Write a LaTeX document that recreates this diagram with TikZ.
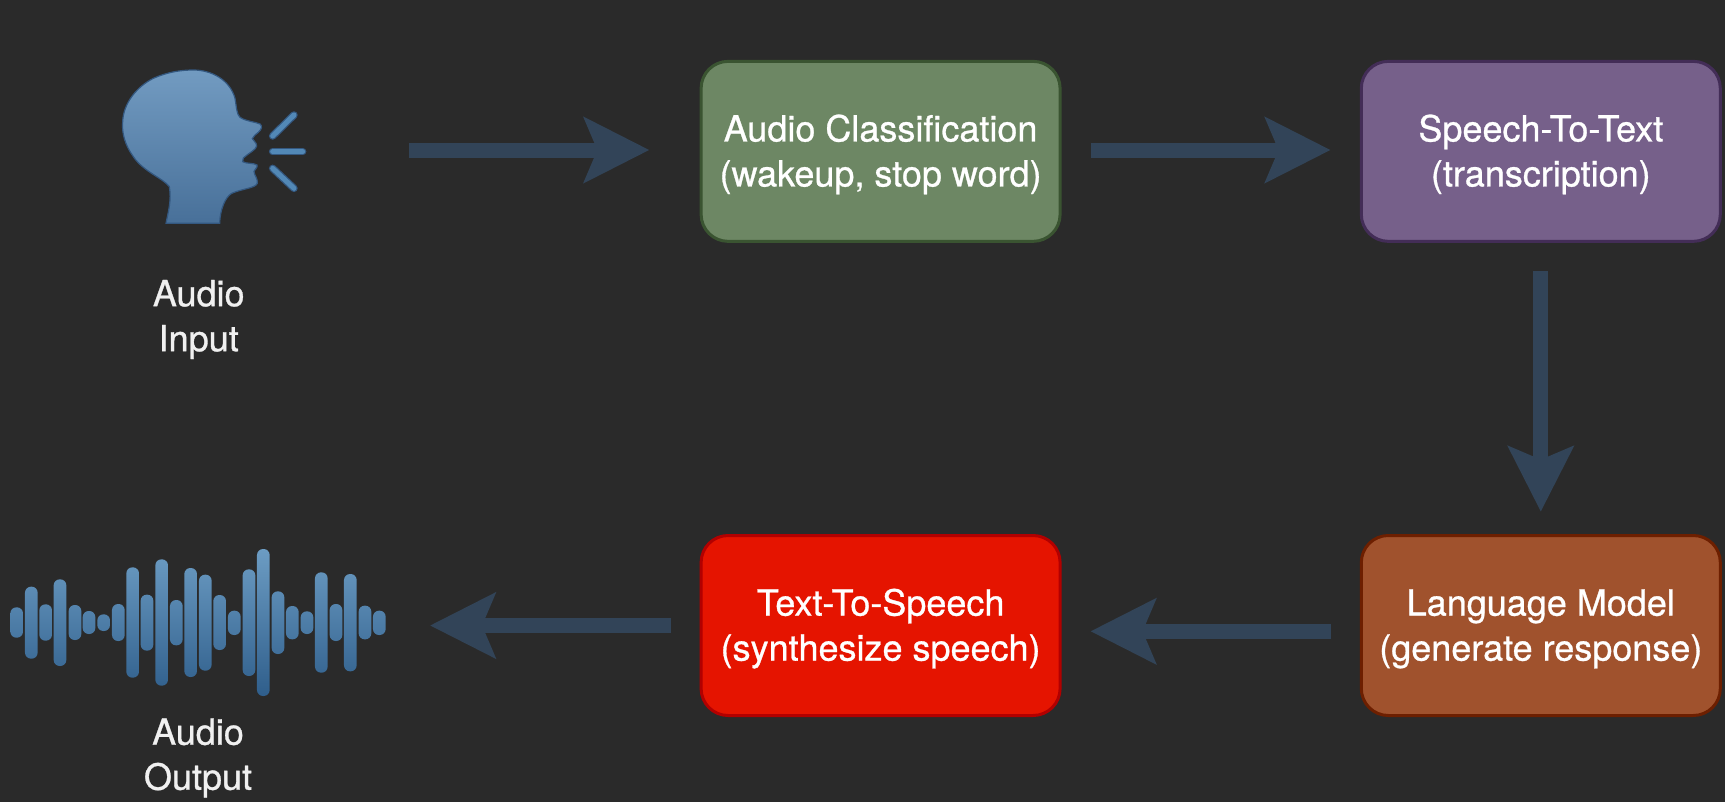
\documentclass[tikz,border=0pt]{standalone}
\usepackage{fontspec}
\setmainfont[FakeBold=0.8]{TeX Gyre Heros}
\usetikzlibrary{arrows.meta}
\definecolor{bgdark}{HTML}{2A2A2A}
\definecolor{flowblue}{HTML}{324458}
\definecolor{headtop}{HTML}{729BC1}
\definecolor{headbot}{HTML}{487099}
\definecolor{headedge}{HTML}{345880}
\definecolor{ticklight}{HTML}{5288B6}
\definecolor{wavetop}{HTML}{6C9CC3}
\definecolor{wavebot}{HTML}{2F5E8B}
\definecolor{clsfill}{HTML}{6D8764}
\definecolor{clsdraw}{HTML}{3A5431}
\definecolor{sttfill}{HTML}{76608A}
\definecolor{sttdraw}{HTML}{432D57}
\definecolor{llmfill}{HTML}{A0522D}
\definecolor{llmdraw}{HTML}{6D1F00}
\definecolor{ttsfill}{HTML}{E51400}
\definecolor{ttsdraw}{HTML}{B20000}
\tikzset{
	stagebox/.style={draw,rounded corners=27pt,line width=3pt,minimum width=359pt,minimum height=180pt,inner sep=0pt,outer sep=0pt,text=white,align=center,text height=78pt,font=\fontsize{36}{45}\selectfont},
	iolabel/.style={text=white!94!black,align=center,inner sep=0pt,font=\fontsize{36}{45}\selectfont},
	flowarrow/.style={flowblue,line width=15pt,-{Stealth[length=65pt,width=64.5pt,inset=13pt]}},
}
\begin{document}
\begin{tikzpicture}[x=1pt,y=-1pt]
	\useasboundingbox (0,0) rectangle (1725,801);
	\fill[bgdark] (-5,-5) rectangle (1730,806);
	\begin{scope}[shift={(80,40)},scale=0.33333]
		\shade[top color=headtop,bottom color=headbot,draw=headedge,line width=1.2pt]
		(340,90) .. controls (395,90) and (450,120) .. (465,175)
		.. controls (470,205) and (470,222) .. (480,232)
		.. controls (500,245) and (525,245) .. (540,252)
		.. controls (548,258) and (545,268) .. (535,277)
		.. controls (528,283) and (520,288) .. (517,296)
		.. controls (520,304) and (530,306) .. (530,318)
		.. controls (530,328) and (505,340) .. (490,354)
		-- (488,365) .. controls (500,372) and (520,368) .. (531,375)
		.. controls (534,382) and (524,388) .. (522,394)
		.. controls (522,405) and (534,415) .. (532,430)
		.. controls (525,445) and (490,445) .. (455,460)
		.. controls (435,472) and (420,510) .. (419,550)
		-- (258,550) .. controls (265,515) and (275,480) .. (268,440)
		.. controls (250,415) and (190,395) .. (160,350)
		.. controls (135,315) and (125,280) .. (128,245)
		.. controls (130,190) and (170,140) .. (220,115)
		.. controls (260,97) and (300,90) .. (340,90) -- cycle;
		\foreach \xa/\ya/\xb/\yb in {578/288/642/225,578/335/668/335,578/385/642/445}{
			\draw[line cap=round,line width=7.5pt,headedge] (\xa,\ya)--(\xb,\yb);
			\draw[line cap=round,line width=5pt,ticklight] (\xa,\ya)--(\xb,\yb);
		}
	\end{scope}
	\begin{scope}[shift={(0,530)},scale=0.33333]
		\shade[top color=wavetop,bottom color=wavebot,rounded corners=6pt]
		foreach \x/\t/\b in {50/232/323,94/170/386,137/223/332,180/148/408,225/225/330,267/243/312,311/253/303,355/222/333,398/112/443,441/194/362,485/88/467,529/210/346,572/114/441,616/134/422,659/195/360,703/242/315,747/118/438,790/57/498,834/184/372,877/228/328,921/244/312,964/127/428,1008/222/333,1051/132/424,1095/227/328,1138/242/315}
		{(\x-19,\t) rectangle (\x+19,\b)};
	\end{scope}
	\node[iolabel] (inputlabel) at (198.7,319.5) {Audio\\Input};
	\node[iolabel] (outputlabel) at (198,758) {Audio\\Output};
	\node[stagebox,fill=clsfill,draw=clsdraw] (clsbox) at (880.6,151.35) {Audio Classification\\(wakeup, stop word)};
	\node[stagebox,fill=sttfill,draw=sttdraw] (sttbox) at (1540.8,151.35) {Speech-To-Text\\(transcription)};
	\node[stagebox,fill=llmfill,draw=llmdraw] (llmbox) at (1540.8,625.5) {Language Model\\(generate response)};
	\node[stagebox,fill=ttsfill,draw=ttsdraw] (ttsbox) at (880.6,625.5) {Text-To-Speech\\(synthesize speech)};
	\coordinate (speaker) at (409.3,150);
	\coordinate (wave) at (430,625.5);
	\draw[flowarrow,shorten >=51.7pt] (speaker) -- ([yshift=1.35pt]clsbox.west);
	\draw[flowarrow,shorten <=30.4pt,shorten >=30.7pt] ([yshift=1.35pt]clsbox.east) -- ([yshift=1.35pt]sttbox.west);
	\draw[flowarrow,shorten <=30pt,shorten >=23.8pt] (sttbox) -- (llmbox);
	\draw[flowarrow,shorten <=30.7pt,shorten >=30.4pt] ([yshift=-5.8pt]llmbox.west) -- ([yshift=-5.8pt]ttsbox.east);
	\draw[flowarrow,shorten <=30.5pt] (ttsbox) -- (wave);
\end{tikzpicture}
\end{document}
